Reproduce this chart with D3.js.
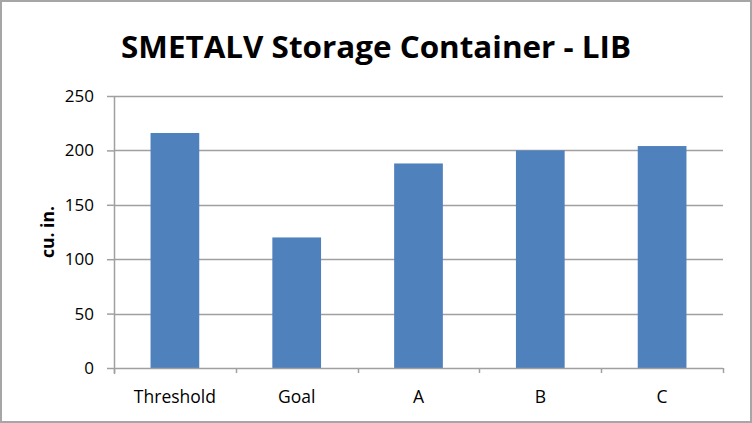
<!DOCTYPE html>
<html>
<head>
<meta charset="utf-8">
<script src="https://cdn.jsdelivr.net/npm/d3@7"></script>
<style>
  body { margin: 0; background: #fff; }
  svg { display: block; font-family: "Open Sans", Lato, sans-serif; }
</style>
</head>
<body>
<svg id="chart" width="752" height="423"></svg>
<script>
"use strict";

// values
var categories = ["Threshold", "Goal", "A", "B", "C"]
var volumes = [216, 120, 188, 200, 204]
var yTicks = [0, 50, 100, 150, 200, 250]

var svg = d3.select("#chart")
var margin = {top: 96, left: 114, right: 29, bottom: 55}
var width = 752 - margin.left - margin.right
var height = 423 - margin.top - margin.bottom

// outer frame
svg.append("rect")
    .attr("x", 1).attr("y", 1)
    .attr("width", 750).attr("height", 421)
    .style("fill", "white")
    .style("stroke", "#a6a6a6")
    .style("stroke-width", 2)

svg.append("text")
    .attr("x", 376)
    .attr("y", 58)
    .attr("text-anchor", "middle")
    .attr("textLength", 510)
    .attr("lengthAdjust", "spacingAndGlyphs")
    .style("font-size", "31px")
    .style("font-weight", "bold")
    .text("SMETALV Storage Container - LIB")

var g = svg.append("g")
    .attr("transform", "translate(" + margin.left + "," + margin.top + ")")

var x = d3.scaleBand()
    .domain(categories)
    .range([0, width])
    .paddingInner(0.6)
    .paddingOuter(0.3)

var y = d3.scaleLinear()
    .domain([0, 250])
    .range([height, 0])

// gridlines
g.selectAll(".grid")
    .data(yTicks.slice(1))
    .enter()
    .append("line")
    .attr("x1", 0).attr("x2", width)
    .attr("y1", function(d){ return Math.round(y(d)) + 0.5 })
    .attr("y2", function(d){ return Math.round(y(d)) + 0.5 })
    .style("stroke", "#a0a0a0")
    .style("stroke-width", 1.5)

g.selectAll(".bar")
    .data(volumes)
    .enter()
    .append("rect")
    .attr("x", function(d,i){ return x(categories[i]) })
    .attr("y", function(d){ return y(d) })
    .attr("width", x.bandwidth())
    .attr("height", function(d){ return height - y(d) })
    .style("fill", "#4f81bd")

var yAxis = g.append("g")
    .call(d3.axisLeft(y).tickValues(yTicks).tickSize(7).tickPadding(13))
yAxis.select(".domain").style("stroke", "#a0a0a0").style("stroke-width", 1.5)
    .attr("d", "M0.5," + (height + 6) + "V0")
yAxis.selectAll(".tick line").style("stroke", "#a0a0a0").style("stroke-width", 1.5)
yAxis.selectAll("text")
    .style("font-size", "17px")
    .style("fill", "#000")
    .style("font-family", "'Open Sans', sans-serif")

// category ticks sit on the band boundaries
var xAxis = g.append("g")
    .attr("transform", "translate(0," + height + ")")
xAxis.append("line")
    .attr("x1", 0).attr("x2", width)
    .attr("y1", 0.5).attr("y2", 0.5)
    .style("stroke", "#a0a0a0")
    .style("stroke-width", 1.5)
xAxis.selectAll(".xtick")
    .data(d3.range(categories.length + 1))
    .enter()
    .append("line")
    .attr("x1", function(i){ return Math.round(i * x.step()) + 0.5 })
    .attr("x2", function(i){ return Math.round(i * x.step()) + 0.5 })
    .attr("y1", 0).attr("y2", 5)
    .style("stroke", "#a0a0a0")
    .style("stroke-width", 1.5)
xAxis.selectAll(".xlabel")
    .data(categories)
    .enter()
    .append("text")
    .attr("x", function(d){ return x(d) + x.bandwidth() / 2 })
    .attr("y", 35)
    .attr("text-anchor", "middle")
    .style("font-size", "17.5px")
    .text(function(d){ return d })

svg.append("text")
    .attr("transform", "translate(54,232) rotate(-90)")
    .attr("text-anchor", "middle")
    .attr("textLength", 52)
    .attr("lengthAdjust", "spacingAndGlyphs")
    .style("font-size", "17px")
    .style("font-weight", "bold")
    .text("cu. in.")
</script>
</body>
</html>
